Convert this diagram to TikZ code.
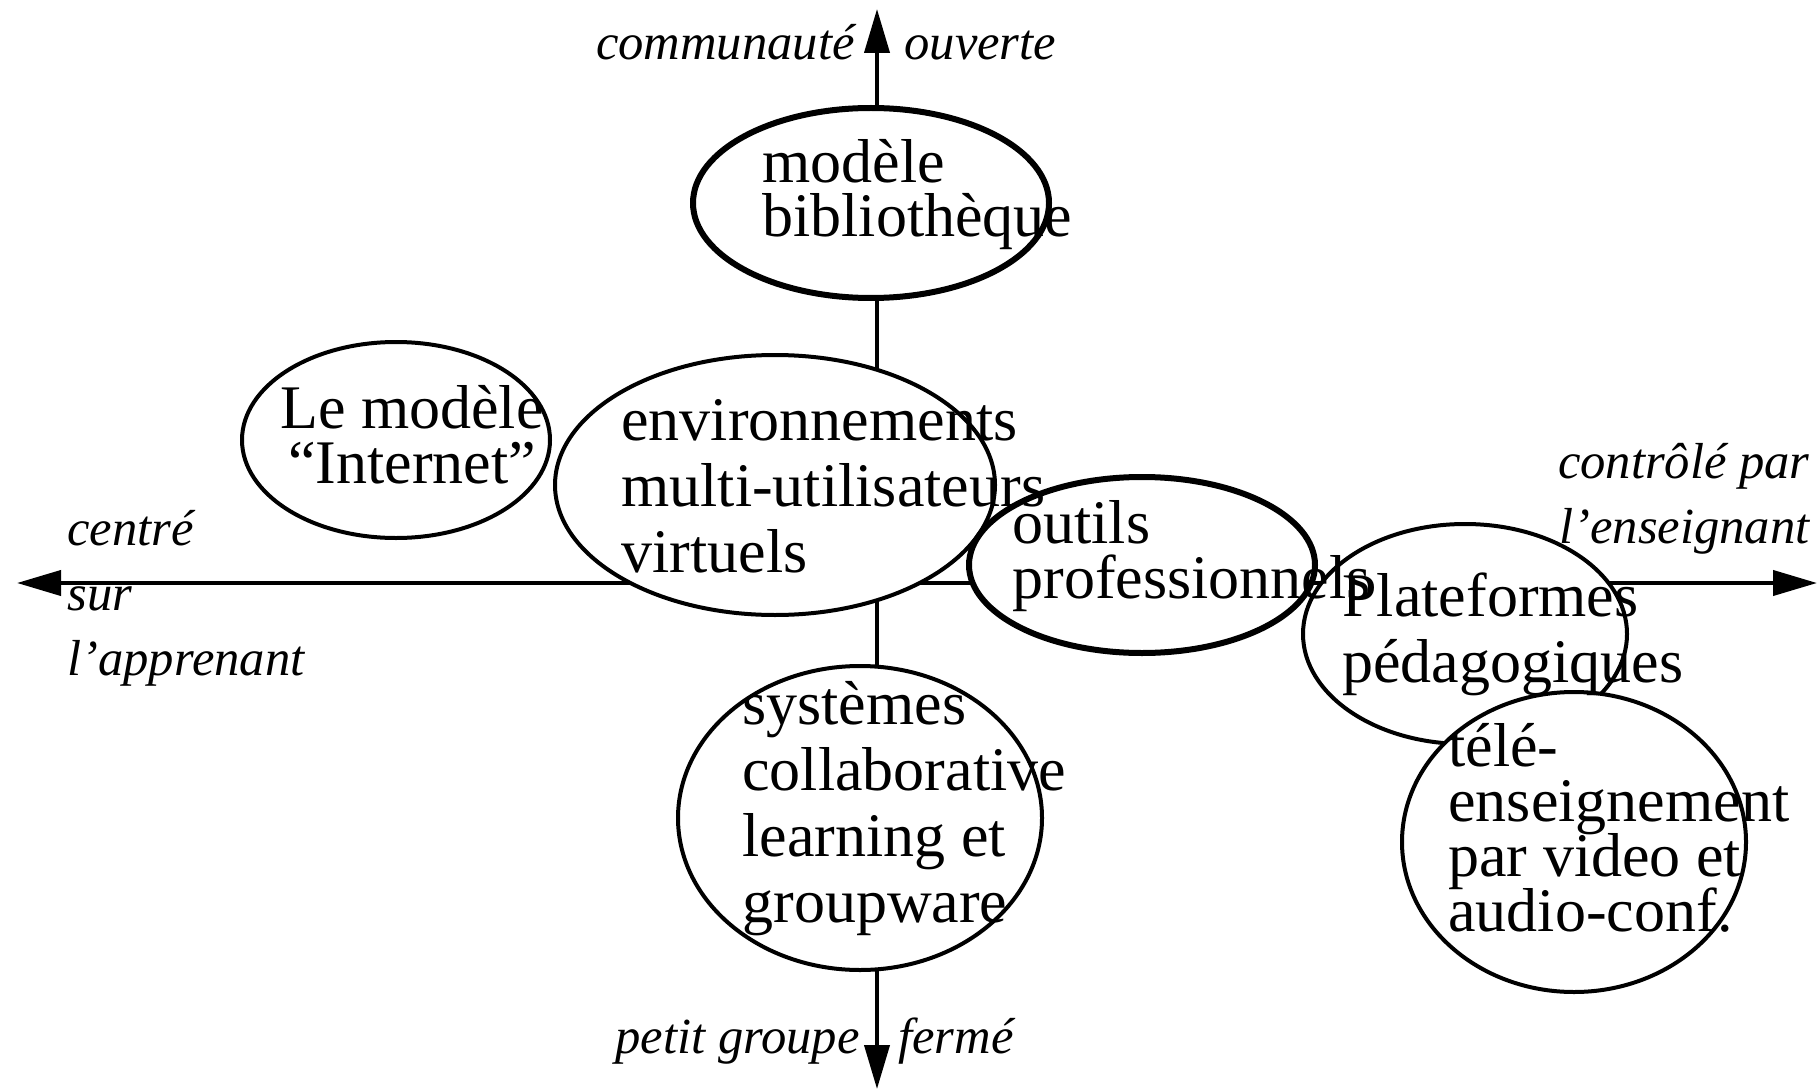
\documentclass[tikz,border=0pt]{standalone}
\usepackage{fontspec}
\setmainfont{Liberation Serif}
\usetikzlibrary{shapes.geometric, arrows.meta, positioning}
\newcommand\zonefont[1]{\fontsize{31}{#1}\selectfont\lineskiplimit=-20pt\relax}
\tikzset{
  zone/.style={ellipse,draw=black,line width=2pt,fill=white,inner sep=0pt},
  zonex/.style={zone,line width=3pt},
  zonetxt/.style={anchor=base west,inner sep=0pt,align=left,font=\zonefont{27.5}},
  zonetxt_l/.style={zonetxt,font=\zonefont{33}},
  pole/.style={inner sep=0pt,font=\fontsize{25.3}{32.5}\selectfont\itshape},
  axis/.style={line width=2pt,{Triangle[length=22pt,width=12.5pt]}-{Triangle[length=22pt,width=12.5pt]}},
}

\begin{document}
\begin{tikzpicture}[x=0.5pt,y=-0.5pt]
	\useasboundingbox (0,0) rectangle (1819,1091);
	\coordinate (ouv) at (877,9);
	\coordinate (ferm) at (877,1089);
	\coordinate (appr) at (17,583);
	\coordinate (ens) at (1817,583);
	\draw[axis] (ferm) -- (ouv);
	\draw[axis] (appr) -- (ens);
	% the zones
	\node[zonex,minimum width=178pt,minimum height=95pt] (bib) at (871,203) {};
	\node[zone,minimum width=154pt,minimum height=98pt] (internet) at (396,440) {};
	\node[zone,minimum width=220pt,minimum height=130pt] (env) at (775,485) {};
	\node[zonex,minimum width=173pt,minimum height=88pt] (outils) at (1142,565) {};
	\node[zone,minimum width=162pt,minimum height=110pt] (plat) at (1465,634) {};
	\node[zone,minimum width=172pt,minimum height=150pt] (tele) at (1574,842) {};
	\node[zone,minimum width=182pt,minimum height=152pt] (sys) at (860,818) {};
	% texts sit on the baseline of their last line
	\node[zonetxt] (bibtxt) at (762,237) {modèle\\bibliothèque};
	\node[zonetxt,anchor=base,align=center] (internettxt) at (412,483) {Le modèle\\“Internet”};
	\node[zonetxt_l] (envtxt) at (621,572) {environnements\\multi-utilisateurs\\virtuels};
	\node[zonetxt] (outilstxt) at (1012,598) {outils\\professionnels};
	\node[zonetxt_l] (plattxt) at (1342,682) {Plateformes\\pédagogiques};
	\node[zonetxt] (teletxt) at (1448,931) {télé-\\enseignement\\par video et\\audio-conf.};
	\node[zonetxt_l] (systxt) at (742,922) {systèmes\\collaborative\\learning et\\groupware};
	% the poles
	\node[pole,anchor=base east] (comm) at (855,60) {communauté};
	\node[pole,anchor=base west] (ouverte) at (904,60) {ouverte};
	\node[pole,anchor=base east] (petit) at (860,1053) {petit groupe};
	\node[pole,anchor=base west] (ferme) at (898,1053) {fermé};
	\node[pole,anchor=base west,align=left] (centre) at (67,675) {centré\\sur\\l’apprenant};
	\node[pole,anchor=base east,align=right] (controle) at (1810,543) {contrôlé par\\l’enseignant};
\end{tikzpicture}
\end{document}
